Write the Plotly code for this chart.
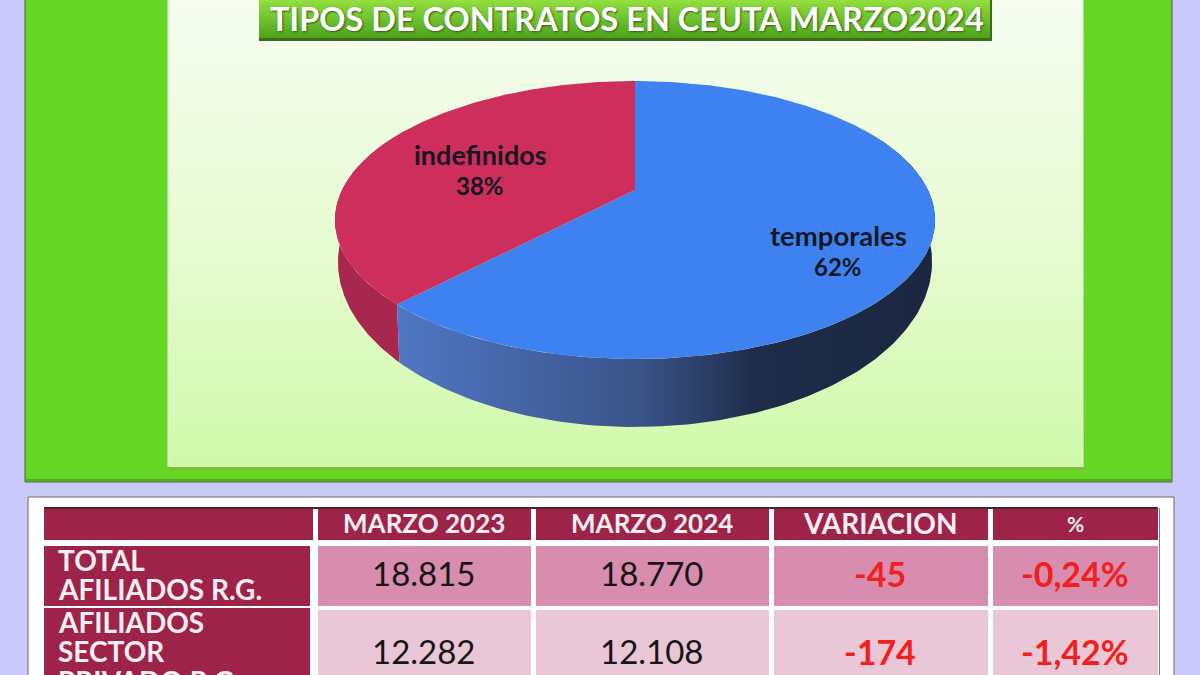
import numpy as np
import plotly.graph_objects as go

# ---- data ----
slice_labels = ["temporales", "indefinidos"]
slice_values = [62, 38]
title_text = "TIPOS DE CONTRATOS EN CEUTA MARZO2024"
col_headers = ["MARZO 2023", "MARZO 2024", "VARIACION", "%"]
row_labels = [["TOTAL", "AFILIADOS R.G."], ["AFILIADOS", "SECTOR"]]
clipped_label = "PRIVADO R.G."
marzo_2023 = ["18.815", "12.282"]
marzo_2024 = ["18.770", "12.108"]
variacion = ["-45", "-174"]
variacion_pct = ["-0,24%", "-1,42%"]

# ---- style / layout ----
FONT = "Lato"
BG = "#C9C9FB"
GREEN = "#66D625"
HEAD = "#9E2349"
ROW_FILL = ["#D88CAE", "#EAC7D7"]
col_x = [(44, 311), (318, 531), (536, 769), (774, 988), (993, 1158)]
head_y = (508, 540)
row_y = [(546, 606), (610, 680)]
label_y = [(546, 606), (608, 680)]
line_y = [[560, 589], [622, 651]]

# perspective disc: clockwise angle from the back of the pie
CX, CY, BX, AY, K = 635.0, 190.0, 293.0, 132.5, 0.2158
LOW_CY, LOW_SX, LOW_SY = 226.4, 0.99, 1.187


def rim(t, cy=CY, sx=1.0, sy=1.0):
    u, v = np.sin(t), np.cos(t)
    d = 1 + K * v
    return CX + sx * BX * u / d, cy - sy * AY * v / d


def arc(a0, a1, n=160):
    return np.linspace(np.radians(a0), np.radians(a1), n)


def poly(x, y, color=None, gradient=None):
    kw = dict(fillgradient=gradient) if gradient else dict(fillcolor=color)
    return go.Scatter(x=list(x), y=list(y), mode="lines", fill="toself",
                      line=dict(width=0), hoverinfo="skip", showlegend=False, **kw)


def wall(a0, a1, color=None, gradient=None):
    t = arc(a0, a1)
    x1, y1 = rim(t)
    x2, y2 = rim(t[::-1], LOW_CY, LOW_SX, LOW_SY)
    return poly(np.r_[x1, x2], np.r_[y1, y2], color, gradient)


def rect(x0, y0, x1, y1, fill, line=None):
    return dict(type="rect", x0=x0, y0=y0, x1=x1, y1=y1, fillcolor=fill,
                line=dict(color=line or fill, width=1 if line else 0), layer="below")


fig = go.Figure()

# inner panel and title bar
fig.add_trace(poly([169, 1082, 1082, 169], [0, 0, 467, 467],
                   gradient=dict(type="vertical",
                                 colorscale=[[0, "#CFFAA9"], [0.45, "#E6FBD0"], [1, "#F6FDF1"]])))
fig.add_trace(poly([259, 992, 992, 259], [0, 0, 41, 41], color="#3E6B1E"))
fig.add_trace(poly([259, 990, 990, 259], [0, 0, 38, 38],
                   gradient=dict(type="vertical",
                                 colorscale=[[0, "#4CA31B"], [1, "#92E03F"]])))

# pie, angles follow the values
split = 360 * slice_values[0] / sum(slice_values)
fig.add_trace(wall(split, 300, color="#A8274F"))
fig.add_trace(wall(60, split, gradient=dict(
    type="horizontal",
    colorscale=[[0, "#5076C4"], [0.45, "#3A5488"], [0.67, "#1E2C4A"], [1, "#1B2740"]])))

t_blue = arc(0, split, 240)
bx, by = rim(t_blue)
fig.add_trace(poly(np.r_[CX, bx, CX], np.r_[CY, by, CY], color="#3E82F2"))
t_red = arc(split, 360, 160)
rx, ry = rim(t_red)
fig.add_trace(poly(np.r_[CX, rx, CX], np.r_[CY, ry, CY], color="#CE2E5B"))

# backgrounds and table cells
shapes = [
    rect(25, -5, 1172, 482, GREEN, "#4F5F45"),
    rect(26, 479, 1171, 481, "#4FAA22"),
    rect(170, 467, 1086, 470, "#86B83A"),
    rect(167.5, -5, 1083.5, 467, "#E6FCD4"),
    rect(28, 497, 1174, 690, "#FFFFFF", "#666666"),
]
for x0, x1 in col_x:
    shapes.append(rect(x0, head_y[0], x1 + 2 if x0 == 44 else x1, head_y[1], HEAD))
shapes.append(rect(col_x[0][0], head_y[0] - 1, col_x[-1][1], head_y[0] + 1, "#4A2430"))
for r, (y0, y1) in enumerate(row_y):
    shapes.append(rect(col_x[0][0], label_y[r][0], col_x[0][1] - 1, label_y[r][1], HEAD))
    for x0, x1 in col_x[1:]:
        shapes.append(rect(x0, y0, x1, y1, ROW_FILL[r]))
shapes.append(rect(1159, 508, 1160, 680, "#7A7A7A"))

# texts
anns = []


def text(x, y, s, size, color, bold=False, anchor="center", shadow=None, yanchor="middle"):
    font = dict(family=FONT, size=size, color=color, weight=700 if bold else 400)
    if shadow:
        font["shadow"] = shadow
    anns.append(dict(x=x, y=y, xref="x", yref="y", text=s, showarrow=False, font=font,
                     xanchor=anchor, yanchor=yanchor, align="center"))


text(627, 18, title_text, 32.5, "#FFFFFF", True, shadow="1px 1px 2px #3A5A14")
text(838, 235, slice_labels[0], 27.5, "#14181F", True)
text(838, 266, f"{slice_values[0]}%", 24, "#14181F", True)
text(480, 154, slice_labels[1], 27, "#14181F", True)
text(480, 185, f"{slice_values[1]}%", 24, "#14181F", True)

header_x = [424, 652, 880, 1075]
header_size = [26, 26, 28, 21]
for x, s, fs in zip(header_x, col_headers, header_size):
    text(x, 523, s, fs, "#F6EEF0", True)
for r, lines in enumerate(row_labels):
    for y, s in zip(line_y[r], lines):
        text(56, y, s, 28, "#F6EEF0", True, anchor="left")
text(56, 662, clipped_label, 28, "#F6EEF0", True, anchor="left", yanchor="top")
for r, y in enumerate([573, 651]):
    text(header_x[0], y, marzo_2023[r], 33, "#161616")
    text(header_x[1], y, marzo_2024[r], 33, "#161616")
    text(header_x[2], y, variacion[r], 34, "#F0201E", True)
    text(header_x[3], y, variacion_pct[r], 34, "#F0201E", True)

fig.update_layout(
    width=1200, height=675, margin=dict(l=0, r=0, t=0, b=0),
    paper_bgcolor=BG, plot_bgcolor=BG, showlegend=False, hovermode=False,
    xaxis=dict(range=[0, 1200], visible=False, fixedrange=True),
    yaxis=dict(range=[675, 0], visible=False, fixedrange=True),
    shapes=shapes, annotations=anns,
)
fig.write_html("out.html", config=dict(displayModeBar=False),
               post_script="document.body.style.margin='0';document.body.style.overflow='hidden';")
